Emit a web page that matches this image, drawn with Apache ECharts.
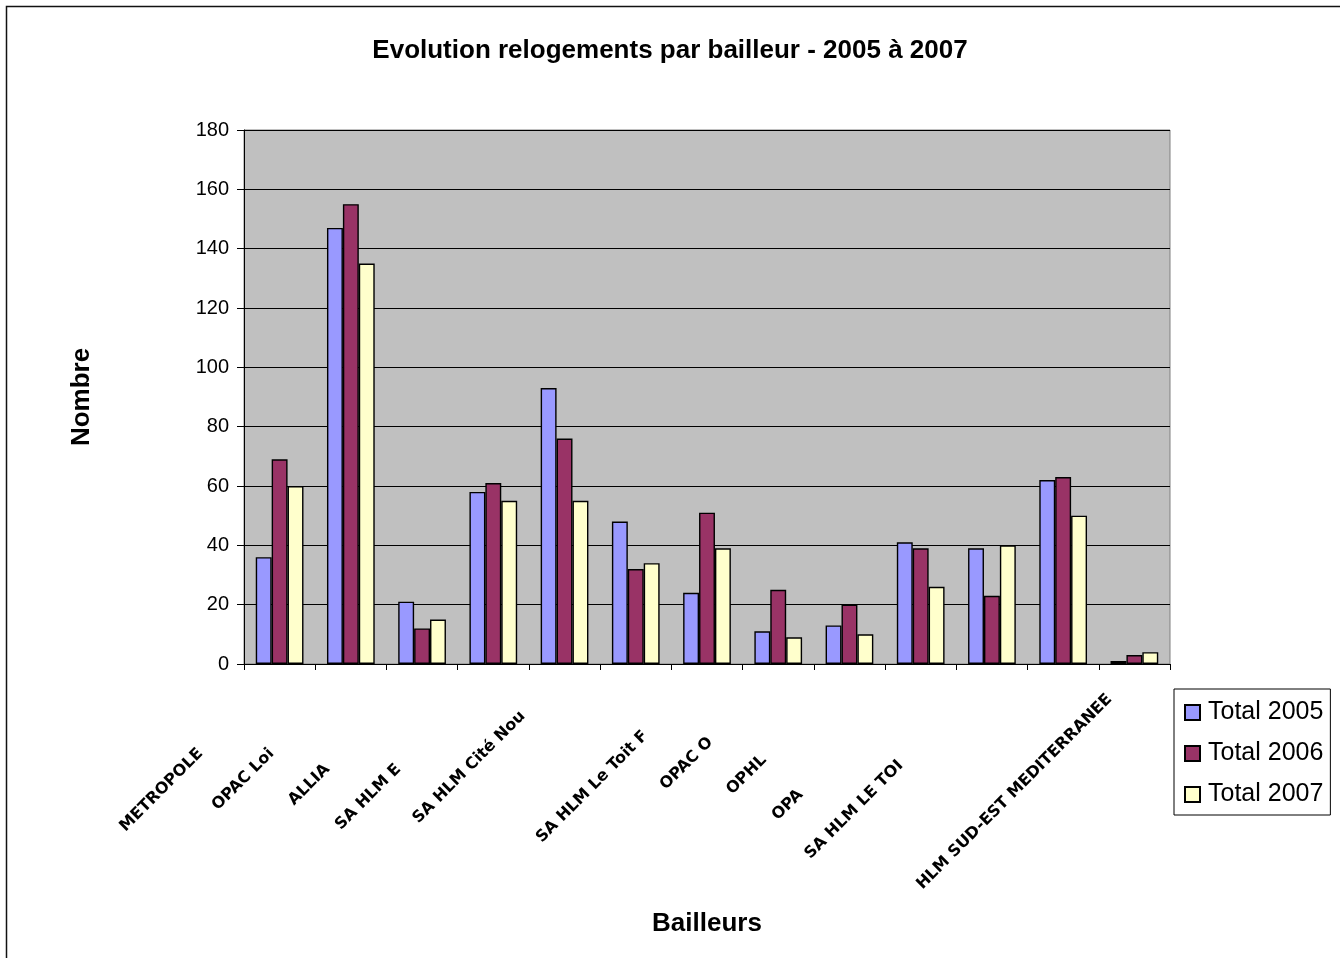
<!DOCTYPE html>
<html>
<head>
<meta charset="utf-8">
<script src="https://cdn.jsdelivr.net/npm/echarts@6/dist/echarts.min.js"></script>
<style>
html,body{margin:0;padding:0;background:#fff;}
#chart{width:1340px;height:958px;}
</style>
</head>
<body>
<div id="chart"></div>
<script>
// ---- data ----
const categories = ['METROPOLE','OPAC Loi','ALLIA','SA HLM E','SA HLM Cité Nou','','SA HLM Le Toit F','OPAC O','OPHL','OPA','SA HLM LE TOI','','HLM SUD-EST MEDITERRANEE'];
const seriesNames = ['Total 2005','Total 2006','Total 2007'];
const total2005 = [36,147,21,58,93,48,24,11,13,41,39,62,1];
const total2006 = [69,155,12,61,76,32,51,25,20,39,23,63,3];
const total2007 = [60,135,15,55,55,34,39,9,10,26,40,50,4];
const yTicks = {min:0, max:180, interval:20};

// ---- style ----
const labelFont = {fontFamily:'DejaVu Sans', fontWeight:'bold', fontSize:16};
const labelSpan = [222,192,185,219,211,0,238,163,170,206,261,0,304]; // full (clipped) label lengths in px
const ctx = document.createElement('canvas').getContext('2d');
ctx.font = 'bold 16px "DejaVu Sans"';
const rich = {};
categories.forEach((c,i)=>{
  const w = c ? ctx.measureText(c).width : 0;
  const pad = Math.max(0, Math.round(labelSpan[i] - w));
  rich['p'+i] = Object.assign({padding:[0,pad,0,0], color:'#000'}, labelFont);
});

const colors = ['#9999FF','#993366','#FFFFCC'];
const datasets = [total2005,total2006,total2007];

const chart = echarts.init(document.getElementById('chart'));
chart.setOption({
  animation:false,
  backgroundColor:'#fff',
  title:{
    text:'Evolution relogements par bailleur - 2005 à 2007',
    left:'center', top:33,
    textStyle:{fontFamily:'Liberation Sans', fontWeight:'bold', fontSize:26, color:'#000'}
  },
  legend:{
    orient:'vertical', left:1174, top:689,
    padding:[11,7,8,10],
    itemGap:16, itemWidth:15, itemHeight:15,
    borderColor:'#000', borderWidth:1, backgroundColor:'#fff',
    icon:'rect',
    textStyle:{fontFamily:'Liberation Sans', fontSize:25, color:'#000', padding:[0,0,0,3]},
    data:seriesNames
  },
  grid:{
    left:244, right:170, top:130, bottom:294,
    show:true, backgroundColor:'#C0C0C0', borderColor:'#808080', borderWidth:1
  },
  xAxis:{
    type:'category',
    data:categories,
    name:'Bailleurs', nameLocation:'middle', nameGap:247,
    nameTextStyle:{fontFamily:'Liberation Sans', fontWeight:'bold', fontSize:26, color:'#000'},
    axisLine:{lineStyle:{color:'#000', width:1}},
    axisTick:{show:true, length:6, lineStyle:{color:'#000'}},
    axisLabel:{
      interval:0, rotate:45, margin:8, hideOverlap:false,
      formatter:(v,i)=> v ? '{p'+i+'|'+v+'}' : '',
      rich:rich
    }
  },
  yAxis:{
    type:'value', min:yTicks.min, max:yTicks.max, interval:yTicks.interval,
    name:'Nombre', nameLocation:'middle', nameGap:149,
    nameTextStyle:{fontFamily:'Liberation Sans', fontWeight:'bold', fontSize:26, color:'#000'},
    axisLine:{show:true, lineStyle:{color:'#000', width:1}},
    axisTick:{show:true, length:7, lineStyle:{color:'#000'}},
    axisLabel:{fontFamily:'Liberation Sans', fontSize:20, color:'#000', margin:15},
    splitLine:{show:true, lineStyle:{color:'#000', width:1}}
  },
  series: datasets.map((d,k)=>({
    name:seriesNames[k], type:'bar', data:d,
    barGap:'0%', barCategoryGap:'33%',
    itemStyle:{color:colors[k], borderColor:'#000', borderWidth:1.4}
  })),
  graphic:[{
    type:'rect', silent:true, z:100,
    shape:{x:6.5, y:6.5, width:1345, height:1000},
    style:{fill:'none', stroke:'#111', lineWidth:1.5}
  }]
});
</script>
</body>
</html>
